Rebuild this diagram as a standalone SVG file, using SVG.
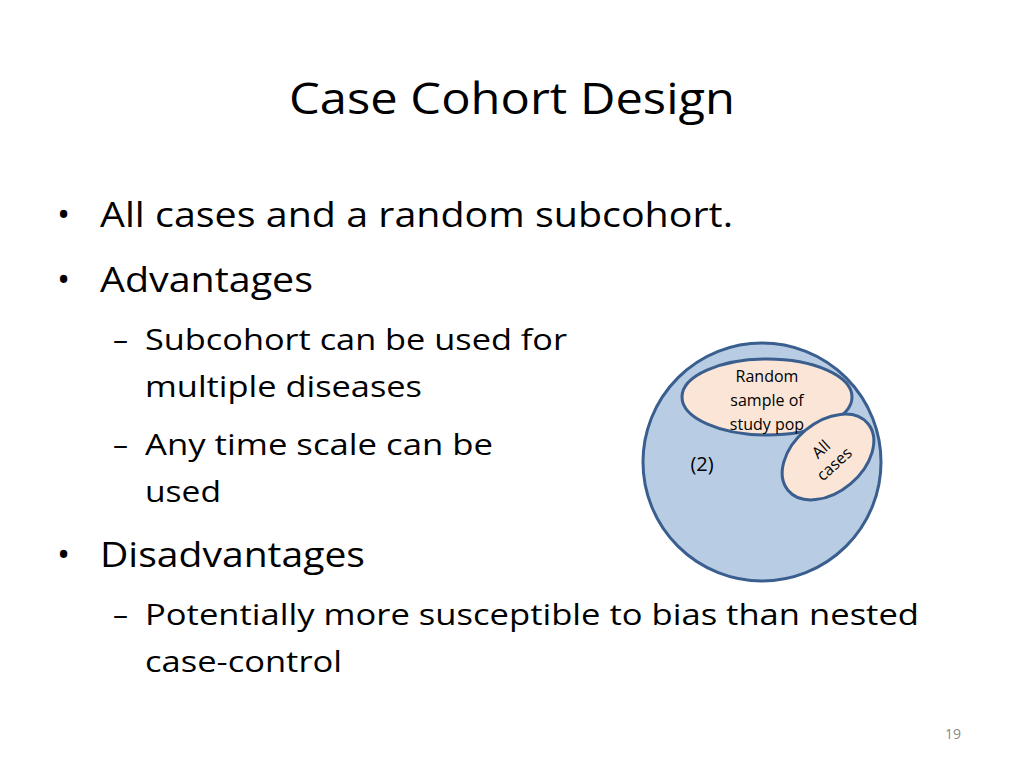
<svg xmlns="http://www.w3.org/2000/svg" width="1024" height="768" viewBox="0 0 1024 768">
<style>
text{font-family:"Open Sans","Liberation Sans",sans-serif;fill:#000}
.t{font-size:44px}
.b1{font-size:35px}
.b2{font-size:30px}
.s{font-size:16px}
.e{stroke:#3A5F8F;stroke-width:3}
</style>
<rect width="1024" height="768" fill="#fff"/>
<text class="t" x="512" y="114" text-anchor="middle" textLength="446" lengthAdjust="spacingAndGlyphs">Case Cohort Design</text>
<g id="bullets">
<text class="b1" x="57" y="227">•</text>
<text class="b1" x="100" y="227" textLength="633" lengthAdjust="spacingAndGlyphs">All cases and a random subcohort.</text>
<text class="b1" x="57" y="292">•</text>
<text class="b1" x="100" y="292" textLength="213" lengthAdjust="spacingAndGlyphs">Advantages</text>
<text class="b2" x="113" y="350">–</text>
<text class="b2" x="145" y="350" textLength="422" lengthAdjust="spacingAndGlyphs">Subcohort can be used for</text>
<text class="b2" x="145" y="397" textLength="277" lengthAdjust="spacingAndGlyphs">multiple diseases</text>
<text class="b2" x="113" y="455">–</text>
<text class="b2" x="145" y="455" textLength="348" lengthAdjust="spacingAndGlyphs">Any time scale can be</text>
<text class="b2" x="145" y="502" textLength="76" lengthAdjust="spacingAndGlyphs">used</text>
<text class="b1" x="57" y="567">•</text>
<text class="b1" x="100" y="567" textLength="265" lengthAdjust="spacingAndGlyphs">Disadvantages</text>
<text class="b2" x="113" y="625">–</text>
<text class="b2" x="145" y="625" textLength="774" lengthAdjust="spacingAndGlyphs">Potentially more susceptible to bias than nested</text>
<text class="b2" x="145" y="672" textLength="197" lengthAdjust="spacingAndGlyphs">case-control</text>
</g>
<g id="study-pop">
<circle class="e" cx="762" cy="462" r="119" fill="#B8CCE4"/>
<text x="702" y="471" font-size="20" text-anchor="middle">(2)</text>
</g>
<g id="random-sample">
<ellipse class="e" cx="767" cy="397" rx="85" ry="38" fill="#FBE5D6"/>
<text class="s" x="767" y="382" text-anchor="middle">Random</text>
<text class="s" x="767" y="406" text-anchor="middle">sample of</text>
<text class="s" x="767" y="430" text-anchor="middle">study pop</text>
</g>
<g id="all-cases">
<ellipse class="e" cx="828" cy="457" rx="52" ry="35" transform="rotate(-40 828 457)" fill="#FBE5D6"/>
<g transform="rotate(-42 828 457)">
<text class="s" x="828" y="452" text-anchor="middle">All</text>
<text class="s" x="828" y="472" text-anchor="middle">cases</text>
</g>
</g>
<text x="953" y="739" font-size="14" fill="#888" text-anchor="middle" style="fill:#888">19</text>
</svg>
